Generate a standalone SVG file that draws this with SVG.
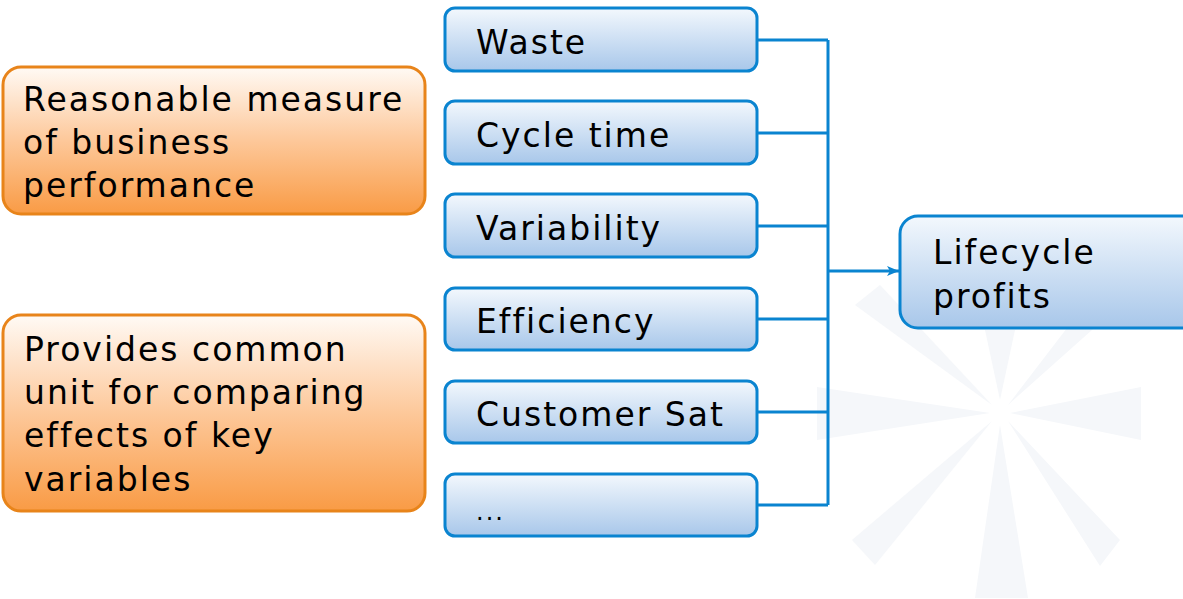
<svg xmlns="http://www.w3.org/2000/svg" width="1183" height="599" viewBox="0 0 1183 599">
<defs>
<linearGradient id="gOr" x1="0" y1="0" x2="0" y2="1">
<stop offset="0" stop-color="#fffaf5"/>
<stop offset="0.5" stop-color="#fdc89a"/>
<stop offset="1" stop-color="#f99b45"/>
</linearGradient>
<linearGradient id="gBl" x1="0" y1="0" x2="0" y2="1">
<stop offset="0" stop-color="#f3f8fd"/>
<stop offset="1" stop-color="#a8c7ea"/>
</linearGradient>
<marker id="arr" viewBox="0 0 12 10" refX="12" refY="5" markerWidth="12" markerHeight="10" markerUnits="userSpaceOnUse" orient="auto">
<path d="M0,0 L12,5 L0,10 L3,5 Z" fill="#0a84d0"/>
</marker>
<style>
.or{fill:url(#gOr);stroke:#e8841a;stroke-width:3}
.bl{fill:url(#gBl);stroke:#0a84d0;stroke-width:3}
.t{font-family:"DejaVu Sans",Verdana,sans-serif;font-size:33px;letter-spacing:2px;fill:#000}
.c{fill:none;stroke:#0a84d0;stroke-width:3}
.w{fill:#f5f7fa}
</style>
</defs>
<g id="watermark">
<polygon class="w" points="990,413 817,387 817,440"/>
<polygon class="w" points="1010,413 1141,387 1141,440"/>
<polygon class="w" points="1000,425 975,598 1028,598"/>
<polygon class="w" points="992,421 852,540 875,565"/>
<polygon class="w" points="1008,421 1120,540 1100,566"/>
<polygon class="w" points="992,405 855,305 880,285"/>
<polygon class="w" points="1008,405 1120,305 1100,285"/>
<polygon class="w" points="1000,400 985,330 1015,330"/>
</g>
<g id="connectors">
<line class="c" x1="828" y1="40" x2="828" y2="505"/>
<line class="c" x1="757" y1="40" x2="828" y2="40"/>
<line class="c" x1="757" y1="133" x2="828" y2="133"/>
<line class="c" x1="757" y1="226" x2="828" y2="226"/>
<line class="c" x1="757" y1="319" x2="828" y2="319"/>
<line class="c" x1="757" y1="412" x2="828" y2="412"/>
<line class="c" x1="757" y1="505" x2="828" y2="505"/>
<line class="c" x1="828" y1="271" x2="899" y2="271" marker-end="url(#arr)"/>
</g>
<g id="reasonable">
<rect class="or" x="3" y="67" width="422" height="147" rx="18"/>
<text class="t" x="23" y="111">Reasonable measure</text>
<text class="t" x="23" y="154">of business</text>
<text class="t" x="23" y="197">performance</text>
</g>
<g id="provides">
<rect class="or" x="3" y="315" width="422" height="196" rx="18"/>
<text class="t" x="24" y="361">Provides common</text>
<text class="t" x="24" y="404">unit for comparing</text>
<text class="t" x="24" y="447">effects of key</text>
<text class="t" x="24" y="491">variables</text>
</g>
<g id="waste">
<rect class="bl" x="445" y="8" width="312" height="63" rx="10"/>
<text class="t" x="476" y="54">Waste</text>
</g>
<g id="cycletime">
<rect class="bl" x="445" y="101" width="312" height="63" rx="10"/>
<text class="t" x="476" y="147">Cycle time</text>
</g>
<g id="variability">
<rect class="bl" x="445" y="194" width="312" height="63" rx="10"/>
<text class="t" x="476" y="240">Variability</text>
</g>
<g id="efficiency">
<rect class="bl" x="445" y="288" width="312" height="62" rx="10"/>
<text class="t" x="476" y="333">Efficiency</text>
</g>
<g id="customersat">
<rect class="bl" x="445" y="381" width="312" height="62" rx="10"/>
<text class="t" x="476" y="426">Customer Sat</text>
</g>
<g id="more">
<rect class="bl" x="445" y="474" width="312" height="62" rx="10"/>
<text class="t" x="476" y="520" style="font-size:24px">...</text>
</g>
<g id="lifecycle">
<rect class="bl" x="900" y="216" width="300" height="112" rx="18"/>
<text class="t" x="933" y="264">Lifecycle</text>
<text class="t" x="933" y="308">profits</text>
</g>
</svg>
